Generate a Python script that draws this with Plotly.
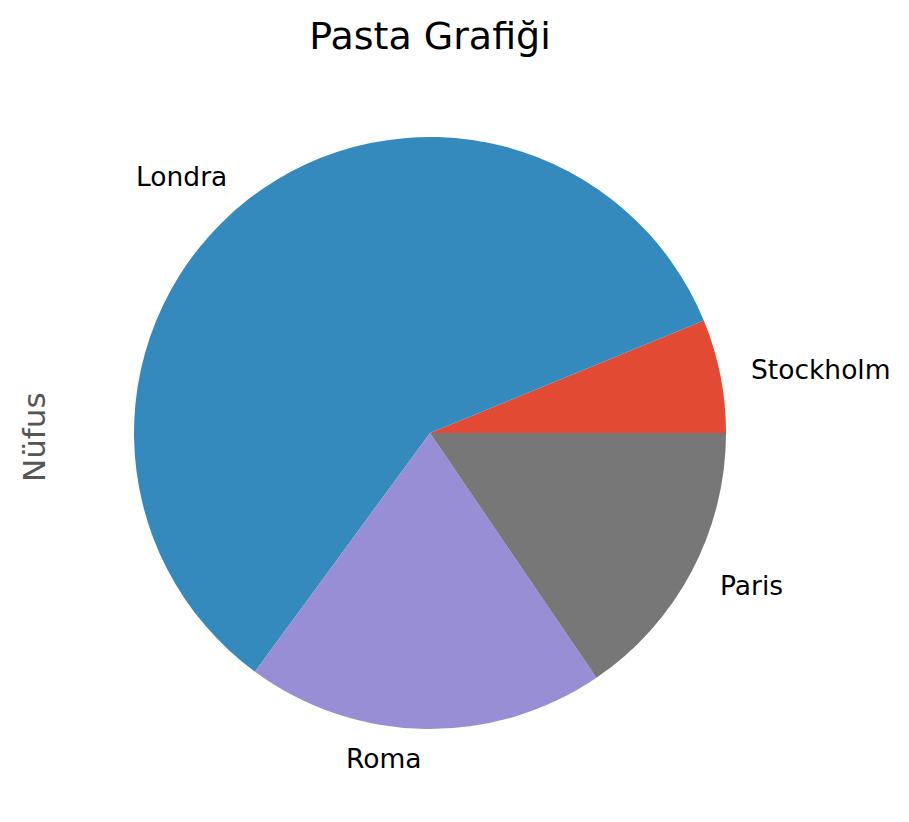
import math
import plotly.graph_objects as go

cities = ["Stockholm", "Londra", "Roma", "Paris"]
population = [909976, 8615246, 2872086, 2273305]
colors = ["#E24A33", "#348ABD", "#988ED5", "#777777"]

W, H = 909, 822
cx, cy, r = 430, 433, 296

total = sum(population)
fracs = [p / total for p in population]

fig = go.Figure(go.Pie(
    labels=cities,
    values=population,
    sort=False,
    direction="counterclockwise",
    rotation=90 - 360 * fracs[0],
    marker=dict(colors=colors, line=dict(width=0)),
    textinfo="none",
    showlegend=False,
    hoverinfo="label+value+percent",
    automargin=False,
    domain=dict(x=[(cx - r) / W, (cx + r) / W], y=[1 - (cy + r) / H, 1 - (cy - r) / H]),
))

# matplotlib-style labels at 1.1 radius of each wedge's mid angle
annotations = []
cum = 0.0
for name, f in zip(cities, fracs):
    mid = 2 * math.pi * (cum + f / 2)
    cum += f
    px = cx + 1.1 * r * math.cos(mid)
    py = cy - 1.1 * r * math.sin(mid)
    annotations.append(dict(
        text=name, x=px / W, y=1 - py / H, xref="paper", yref="paper",
        xanchor="left" if math.cos(mid) > 0 else "right", yanchor="middle",
        showarrow=False, font=dict(family="DejaVu Sans", size=26.5, color="black"),
    ))

annotations.append(dict(text="Nüfus", textangle=-90, x=34 / W, y=1 - 437 / H, xref="paper", yref="paper",
                        xanchor="center", yanchor="middle",
                        showarrow=False, font=dict(family="DejaVu Sans", size=31, color="#555555")))

fig.update_layout(
    width=W, height=H,
    margin=dict(l=0, r=0, t=0, b=0),
    paper_bgcolor="white",
    plot_bgcolor="white",
    title=dict(text="Pasta Grafiği", x=430 / W, xanchor="center", y=1 - 36 / H, yanchor="middle",
               font=dict(family="DejaVu Sans", size=38, color="black")),
    annotations=annotations,
)

fig.write_html("out.html")
